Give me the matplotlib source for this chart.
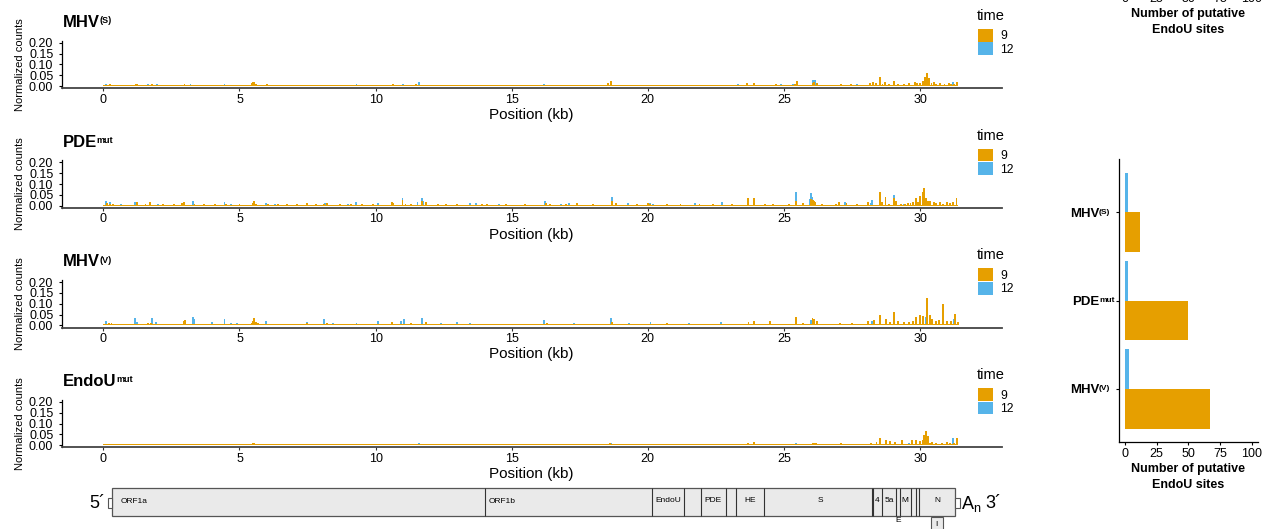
import matplotlib.pyplot as plt
from matplotlib.patches import Patch, Rectangle

plt.rcParams['font.family'] = ['Liberation Sans', 'DejaVu Sans']
plt.rcParams['mathtext.fontset'] = 'custom'
plt.rcParams['mathtext.rm'] = 'Liberation Sans'
plt.rcParams['mathtext.it'] = 'Liberation Sans:italic'
plt.rcParams['mathtext.bf'] = 'Liberation Sans:bold'

ORANGE = "#E69F00"
BLUE = "#56B4E9"

# coverage peaks: (position in kb, normalized count), per virus and time point
genome_len = 31.4
baseline_9 = 0.005

mhvs_9 = [(0.23, 0.008), (0.5, 0.006), (0.92, 0.006), (1.2, 0.011), (1.25, 0.011), (1.8, 0.011),
          (2.4, 0.006), (2.98, 0.011), (3.6, 0.006), (4.2, 0.006), (5.45, 0.012), (5.5, 0.02),
          (5.55, 0.017), (5.62, 0.009), (6.0, 0.011), (6.9, 0.006), (7.5, 0.007), (7.6, 0.007),
          (8.3, 0.006), (8.9, 0.007), (9.7, 0.006), (10.65, 0.008), (11.5, 0.009), (12.2, 0.006),
          (12.9, 0.006), (14.0, 0.006), (15.2, 0.006), (16.6, 0.006), (17.7, 0.006), (18.55, 0.012),
          (18.65, 0.022), (19.5, 0.006), (20.7, 0.007), (21.4, 0.006), (22.1, 0.006), (23.0, 0.006),
          (23.65, 0.012), (23.9, 0.016), (24.7, 0.008), (25.4, 0.01), (25.47, 0.021), (26.05, 0.015),
          (26.12, 0.018), (26.2, 0.012), (26.7, 0.007), (27.1, 0.01), (27.45, 0.008), (28.15, 0.012),
          (28.28, 0.02), (28.38, 0.012), (28.53, 0.044), (28.62, 0.01), (28.72, 0.02), (28.85, 0.01),
          (29.05, 0.025), (29.2, 0.008), (29.4, 0.01), (29.6, 0.012), (29.8, 0.019), (29.9, 0.014),
          (30.0, 0.015), (30.1, 0.025), (30.17, 0.044), (30.27, 0.059), (30.33, 0.038), (30.42, 0.015),
          (30.5, 0.02), (30.6, 0.01), (30.75, 0.012), (30.9, 0.01), (31.05, 0.012), (31.15, 0.008),
          (31.25, 0.01), (31.37, 0.02)]
mhvs_12 = [(0.1, 0.01), (1.63, 0.01), (1.96, 0.01), (3.2, 0.008), (4.45, 0.01), (6.75, 0.007),
           (9.3, 0.008), (11.0, 0.009), (11.6, 0.02), (13.3, 0.007), (16.2, 0.009), (18.65, 0.012),
           (21.0, 0.007), (23.3, 0.008), (24.9, 0.009), (25.35, 0.01), (26.08, 0.03), (26.14, 0.028),
           (27.7, 0.009), (31.2, 0.02)]

pde_9 = [(0.15, 0.011), (0.25, 0.01), (0.35, 0.006), (1.25, 0.019), (1.55, 0.006), (1.7, 0.019),
         (2.2, 0.006), (2.6, 0.007), (2.9, 0.012), (2.97, 0.019), (3.35, 0.008), (3.7, 0.007),
         (4.1, 0.006), (4.5, 0.009), (5.0, 0.006), (5.5, 0.012), (5.55, 0.023), (5.62, 0.01),
         (6.05, 0.007), (6.4, 0.006), (6.75, 0.007), (7.1, 0.006), (7.48, 0.011), (7.8, 0.006),
         (8.1, 0.01), (8.2, 0.011), (8.7, 0.007), (9.1, 0.006), (9.5, 0.007), (9.9, 0.006),
         (10.6, 0.015), (10.64, 0.012), (10.99, 0.026), (11.1, 0.008), (11.3, 0.01), (11.7, 0.02),
         (11.86, 0.015), (12.3, 0.007), (12.6, 0.007), (13.0, 0.007), (13.9, 0.006), (14.1, 0.006),
         (14.8, 0.006), (15.5, 0.006), (16.25, 0.011), (16.4, 0.008), (17.0, 0.006), (17.4, 0.011),
         (18.0, 0.007), (18.67, 0.023), (18.83, 0.012), (19.6, 0.006), (20.0, 0.012), (20.09, 0.01),
         (20.7, 0.01), (21.2, 0.006), (21.9, 0.007), (22.4, 0.006), (23.1, 0.006), (23.68, 0.034),
         (23.9, 0.034), (24.3, 0.007), (24.6, 0.008), (25.2, 0.007), (25.43, 0.023), (25.7, 0.012),
         (26.0, 0.031), (26.08, 0.025), (26.12, 0.023), (26.15, 0.018), (26.4, 0.007), (26.9, 0.006),
         (27.04, 0.015), (27.3, 0.012), (27.7, 0.007), (28.1, 0.015), (28.53, 0.065), (28.6, 0.015),
         (28.73, 0.042), (28.85, 0.01), (29.04, 0.034), (29.12, 0.023), (29.3, 0.01), (29.45, 0.01),
         (29.55, 0.012), (29.65, 0.012), (29.75, 0.015), (29.84, 0.037), (29.92, 0.018), (30.0, 0.046),
         (30.09, 0.065), (30.15, 0.083), (30.21, 0.034), (30.3, 0.023), (30.38, 0.02), (30.5, 0.015),
         (30.6, 0.012), (30.75, 0.018), (30.85, 0.01), (31.0, 0.018), (31.1, 0.012), (31.2, 0.015),
         (31.34, 0.034)]
pde_12 = [(0.1, 0.023), (0.25, 0.019), (0.65, 0.007), (1.17, 0.019), (2.0, 0.007), (3.3, 0.023),
          (4.45, 0.019), (4.7, 0.007), (5.97, 0.014), (6.3, 0.007), (8.15, 0.014), (9.0, 0.007),
          (9.29, 0.019), (10.1, 0.012), (10.99, 0.037), (11.54, 0.019), (11.7, 0.037), (11.75, 0.022),
          (13.46, 0.011), (13.68, 0.014), (14.55, 0.007), (16.21, 0.023), (16.8, 0.007), (17.1, 0.011),
          (18.67, 0.042), (19.27, 0.014), (19.6, 0.007), (20.09, 0.014), (20.2, 0.009), (21.75, 0.011),
          (22.71, 0.015), (25.43, 0.065), (25.95, 0.031), (26.0, 0.06), (26.05, 0.04), (27.25, 0.019),
          (28.18, 0.012), (28.25, 0.026), (29.04, 0.051), (29.4, 0.008), (30.18, 0.037)]

mhvv_9 = [(0.2, 0.012), (0.3, 0.012), (0.55, 0.006), (0.9, 0.006), (1.45, 0.007), (1.65, 0.012),
          (1.75, 0.009), (2.2, 0.006), (2.5, 0.006), (2.95, 0.02), (3.0, 0.025), (3.1, 0.008),
          (3.5, 0.007), (3.9, 0.006), (4.55, 0.008), (5.1, 0.006), (5.45, 0.012), (5.5, 0.02),
          (5.55, 0.035), (5.6, 0.015), (5.68, 0.01), (6.3, 0.006), (6.8, 0.006), (7.48, 0.012),
          (7.9, 0.006), (8.2, 0.012), (8.9, 0.007), (9.6, 0.006), (10.2, 0.006), (10.6, 0.014),
          (11.3, 0.012), (11.85, 0.014), (12.8, 0.007), (13.6, 0.006), (14.1, 0.006), (15.3, 0.007),
          (16.3, 0.012), (16.9, 0.006), (17.6, 0.008), (18.7, 0.018), (19.8, 0.008), (20.7, 0.01),
          (21.6, 0.006), (22.3, 0.008), (23.1, 0.006), (23.7, 0.015), (23.9, 0.02), (24.5, 0.02),
          (25.45, 0.04), (25.7, 0.012), (26.05, 0.035), (26.1, 0.03), (26.2, 0.02), (26.6, 0.007),
          (27.05, 0.012), (27.5, 0.01), (28.1, 0.02), (28.3, 0.025), (28.53, 0.05), (28.75, 0.03),
          (28.9, 0.015), (29.05, 0.06), (29.2, 0.02), (29.4, 0.015), (29.6, 0.015), (29.75, 0.02),
          (29.85, 0.04), (30.0, 0.05), (30.1, 0.045), (30.27, 0.125), (30.35, 0.05), (30.45, 0.03),
          (30.6, 0.02), (30.7, 0.025), (30.85, 0.1), (31.0, 0.02), (31.15, 0.02), (31.3, 0.055),
          (31.4, 0.015)]
mhvv_12 = [(0.1, 0.02), (0.2, 0.012), (1.17, 0.035), (1.25, 0.015), (1.8, 0.035), (1.95, 0.015),
           (2.65, 0.007), (3.3, 0.039), (3.35, 0.028), (4.0, 0.015), (4.45, 0.029), (4.7, 0.012),
           (4.9, 0.012), (5.97, 0.02), (6.55, 0.007), (7.48, 0.015), (8.1, 0.029), (8.45, 0.012),
           (9.3, 0.009), (10.1, 0.02), (10.95, 0.02), (11.05, 0.03), (11.7, 0.035), (12.4, 0.01),
           (13.0, 0.015), (13.46, 0.012), (14.5, 0.007), (16.2, 0.025), (17.3, 0.01), (18.65, 0.035),
           (19.3, 0.012), (20.1, 0.015), (21.5, 0.012), (22.7, 0.015), (25.45, 0.015), (26.0, 0.025),
           (26.05, 0.035), (28.25, 0.02), (29.05, 0.03), (29.6, 0.018), (30.2, 0.04), (31.25, 0.03)]

endou_9 = [(0.2, 0.007), (0.95, 0.006), (1.2, 0.007), (1.8, 0.006), (2.98, 0.007), (4.0, 0.006),
           (5.5, 0.01), (5.55, 0.012), (6.0, 0.006), (7.5, 0.006), (9.0, 0.006), (10.6, 0.006),
           (11.7, 0.007), (13.2, 0.006), (15.0, 0.007), (17.0, 0.006), (18.6, 0.008), (20.7, 0.006),
           (22.0, 0.006), (23.69, 0.011), (23.9, 0.015), (24.55, 0.006), (26.05, 0.011), (26.12, 0.011),
           (26.18, 0.011), (27.1, 0.011), (27.4, 0.006), (27.6, 0.006), (28.2, 0.008), (28.4, 0.015),
           (28.53, 0.032), (28.74, 0.023), (28.9, 0.017), (29.08, 0.015), (29.35, 0.023), (29.55, 0.007),
           (29.7, 0.023), (29.84, 0.026), (30.0, 0.017), (30.1, 0.026), (30.15, 0.046), (30.22, 0.066),
           (30.3, 0.042), (30.38, 0.012), (30.45, 0.015), (30.6, 0.012), (30.8, 0.011), (31.0, 0.015),
           (31.1, 0.01), (31.25, 0.008), (31.37, 0.034)]
endou_12 = [(0.1, 0.007), (1.6, 0.007), (4.45, 0.007), (9.3, 0.006), (11.6, 0.008), (16.2, 0.007),
            (18.65, 0.01), (21.8, 0.007), (25.45, 0.011), (27.9, 0.006), (29.6, 0.011), (30.22, 0.04),
            (31.2, 0.034)]

panel_names = [("MHV", "(S)"), ("PDE", "mut"), ("MHV", "(V)"), ("EndoU", "mut")]
panel_series = [(mhvs_9, mhvs_12), (pde_9, pde_12), (mhvv_9, mhvv_12), (endou_9, endou_12)]

# genome map (kb)
genome_start, genome_end = 0.33, 31.29
genome_dividers = [14.01, 20.16, 21.32, 21.94, 22.87, 23.24, 24.26, 28.22, 28.27,
                   28.62, 29.10, 29.26, 29.66, 29.84, 29.96]
gene_labels = [("EndoU", 20.74), ("PDE", 22.40), ("HE", 23.75), ("S", 26.35),
               ("4", 28.44), ("5a", 28.86), ("M", 29.46), ("N", 30.63)]

# putative EndoU sites
strains = [("MHV", "(S)"), ("PDE", "mut"), ("MHV", "(V)")]
sites_9 = [12, 50, 67]
sites_12 = [2, 2, 3]

W, H = 1270, 529
fig = plt.figure(figsize=(W / 100, H / 100), dpi=100)


def px_rect(x0, y0, x1, y1):
    return [x0 / W, 1 - y1 / H, (x1 - x0) / W, (y1 - y0) / H]


XLIM = (-1.53, 33.0)

for i, ((name, sup), (s9, s12)) in enumerate(zip(panel_names, panel_series)):
    y0 = 86 + 119.7 * i
    ax = fig.add_axes(px_rect(61.7, y0 - 45.4, 1001.7, y0 + 2.2))
    ax.bar([p for p, h in s12], [h for p, h in s12], width=0.07, color=BLUE, linewidth=0, zorder=2)
    ax.bar(0, baseline_9, width=genome_len, align='edge', color=ORANGE, linewidth=0, zorder=3)
    ax.bar([p for p, h in s9], [h for p, h in s9], width=0.07, color=ORANGE, linewidth=0, zorder=3)
    ax.set_xlim(*XLIM)
    ax.set_ylim(-0.01, 0.21)
    ax.set_yticks([0, 0.05, 0.10, 0.15, 0.20])
    ax.set_yticklabels(["0.00", "0.05", "0.10", "0.15", "0.20"])
    ax.set_xticks([0, 5, 10, 15, 20, 25, 30])
    for s in ("top", "right"):
        ax.spines[s].set_visible(False)
    ax.spines["left"].set_linewidth(0.9)
    ax.spines["bottom"].set_linewidth(1.3)
    ax.spines["bottom"].set_color("#444444")
    ax.tick_params(axis="y", length=2.5, width=0.8, labelsize=9, pad=3.5)
    ax.tick_params(axis="x", length=2.5, width=0.8, labelsize=9, pad=1.5, colors="#333333",
                   labelcolor="black")
    ax.set_xlabel("Position (kb)", fontsize=11, labelpad=1.5)
    ax.set_ylabel("Normalized counts", fontsize=8, labelpad=3)

    t = fig.text(63.3 / W, 1 - (27 + 119.7 * i) / H, name, fontsize=12, fontweight="bold",
                 ha="left", va="baseline")
    ax.annotate(sup, xy=(1, 1), xycoords=t, xytext=(-0.6, -0.8), textcoords="offset points",
                ha="left", va="top", fontsize=6.5, fontweight="bold")

    # legend: title as its own text so the two keys can sit flush
    fig.text(976.5 / W, 1 - (16 + 119.7 * i) / H, "time", fontsize=10.5, ha="left", va="center")
    handles = [Patch(facecolor=ORANGE, edgecolor="none", label="9"),
               Patch(facecolor=BLUE, edgecolor="none", label="12")]
    ax.legend(handles=handles, loc="upper left",
              bbox_to_anchor=(978 / W, 1 - (29 + 119.7 * i) / H), bbox_transform=fig.transFigure,
              frameon=False, fontsize=8.7, handlelength=1.22, handleheight=1.25,
              labelspacing=0, handletextpad=0.65, borderpad=0, borderaxespad=0)

# genome organisation under the coverage tracks
axg = fig.add_axes(px_rect(61.7, 478, 1001.7, 529))
axg.set_xlim(*XLIM)
axg.set_ylim(529, 478)
axg.axis("off")
axg.add_patch(Rectangle((genome_start, 487.7), genome_end - genome_start, 28,
                        facecolor="#EAEAEA", edgecolor="#555555", linewidth=0.9))
axg.vlines(genome_dividers, 487.7, 515.7, color="#333333", linewidth=0.8)
axg.add_patch(Rectangle((0.16, 497.7), genome_start - 0.16, 10.5, facecolor="white",
                        edgecolor="#555555", linewidth=0.8))
axg.add_patch(Rectangle((genome_end, 497.7), 0.18, 10, facecolor="white",
                        edgecolor="#555555", linewidth=0.8))
axg.add_patch(Rectangle((30.39, 516.5), 0.44, 14, facecolor="#EAEAEA",
                        edgecolor="#555555", linewidth=0.8))
axg.text(0.64, 501.7, "ORF1a", fontsize=6, ha="left", va="center")
axg.text(14.14, 501.7, "ORF1b", fontsize=6, ha="left", va="center")
for lab, pos in gene_labels:
    axg.text(pos, 500.5, lab, fontsize=6, ha="center", va="center")
axg.text(29.18, 520.5, "E", fontsize=6, ha="center", va="center")
axg.text(30.61, 524.5, "I", fontsize=6, ha="center", va="center")
axg.text(0.08, 503.5, "5´", fontsize=13, ha="right", va="center")
axg.text(31.5, 503.5, r"$\mathrm{A}_{\mathrm{n}}$", fontsize=13, ha="left", va="center")
axg.text(32.4, 503.5, "3´", fontsize=13, ha="left", va="center")


def style_count_axis(a):
    a.set_xlim(-5, 105)
    a.set_xticks([0, 25, 50, 75, 100])
    a.tick_params(axis="x", length=2.5, width=0.8, labelsize=9, pad=1.5)
    for s in ("top", "right"):
        a.spines[s].set_visible(False)
    a.spines["left"].set_linewidth(0.9)
    a.spines["bottom"].set_linewidth(0.9)
    a.set_xlabel("Number of putative\nEndoU sites", fontsize=9, fontweight="bold",
                 labelpad=2.5, linespacing=1.4)


# upper count panel, mostly above the canvas
axt = fig.add_axes(px_rect(1118.7, -113, 1258, -13))
style_count_axis(axt)
axt.set_yticks([])

# putative EndoU sites per strain
axb = fig.add_axes(px_rect(1118.7, 159.3, 1258, 442))
ypos = [3, 2, 1]
axb.barh([y - 0.225 for y in ypos], sites_9, height=0.45, color=ORANGE, linewidth=0)
axb.barh([y + 0.225 for y in ypos], sites_12, height=0.45, color=BLUE, linewidth=0)
axb.set_ylim(0.4, 3.6)
style_count_axis(axb)
axb.set_yticks(ypos)
axb.set_yticklabels(["", "", ""])
axb.tick_params(axis="y", length=2.5, width=0.8)
for (name, sup), y in zip(strains, ypos):
    base = axb.annotate(name, xy=(1099.5, y), xycoords=("figure pixels", "data"),
                        ha="right", va="center_baseline", fontsize=9.5, fontweight="bold")
    axb.annotate(sup, xy=(1, 1), xycoords=base, xytext=(-0.4, -0.5), textcoords="offset points",
                 ha="left", va="top", fontsize=6, fontweight="bold")

fig.savefig("out.png", dpi=100)
